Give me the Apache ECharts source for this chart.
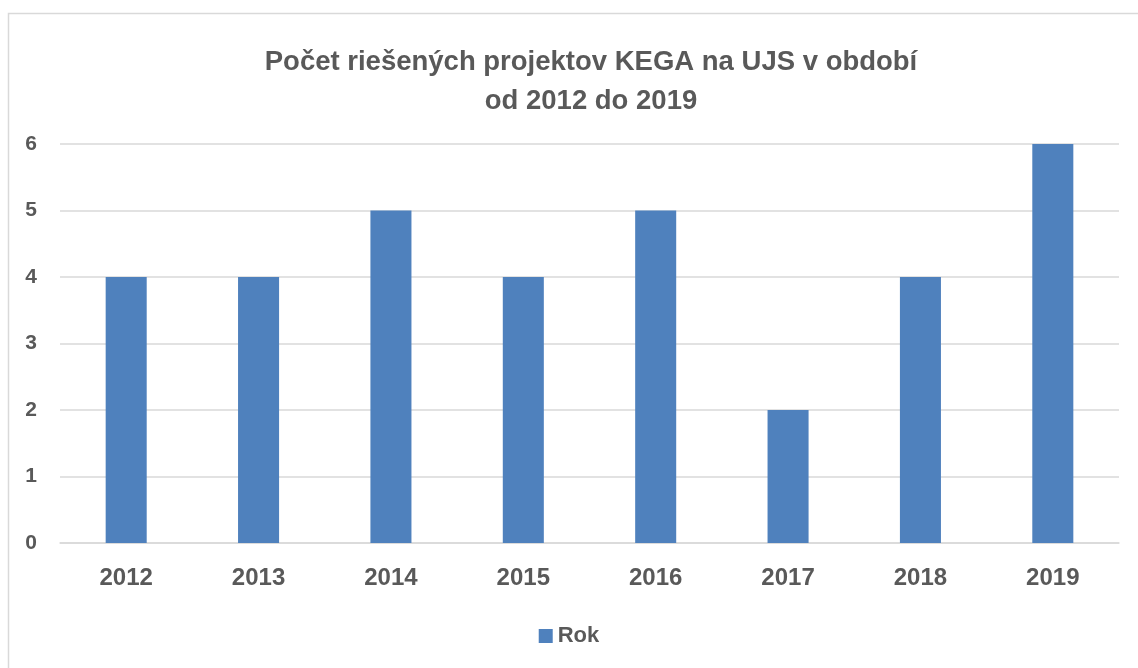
<!DOCTYPE html>
<html>
<head>
<meta charset="utf-8">
<script src="https://cdn.jsdelivr.net/npm/echarts@6/dist/echarts.min.js"></script>
<style>
  html, body { margin: 0; padding: 0; background: #fff; }
  #chart { width: 1138px; height: 668px; }
</style>
</head>
<body>
<div id="chart"></div>
<script>
// data
var years = ['2012', '2013', '2014', '2015', '2016', '2017', '2018', '2019'];
var rok = [4, 4, 5, 4, 5, 2, 4, 6];
var seriesName = 'Rok';
var titleText = 'Počet riešených projektov KEGA na UJS v období\nod 2012 do 2019';

var font = '"Liberation Sans", Arial, sans-serif';
var textColor = '#595959';

var chart = echarts.init(document.getElementById('chart'));
chart.setOption({
    animation: false,
    backgroundColor: '#ffffff',
    graphic: [{
        // outer chart-area frame, runs off the right/bottom edge
        type: 'rect',
        shape: { x: 8.5, y: 13.5, width: 1200, height: 700 },
        style: { fill: 'none', stroke: '#d9d9d9', lineWidth: 1.5 },
        silent: true
    }],
    title: {
        text: titleText,
        left: 586,
        top: 38,
        textAlign: 'center',
        textStyle: {
            fontFamily: font,
            fontWeight: 'bold',
            fontSize: 27.5,
            lineHeight: 39,
            color: textColor
        }
    },
    legend: {
        data: [seriesName],
        bottom: 16,
        left: 'center',
        itemWidth: 14,
        itemHeight: 14,
        itemGap: 7,
        icon: 'rect',
        textStyle: {
            fontFamily: font,
            fontWeight: 'bold',
            fontSize: 22,
            color: textColor
        }
    },
    grid: {
        left: 60,
        right: 19,
        top: 144,
        bottom: 125,
        containLabel: false
    },
    xAxis: {
        type: 'category',
        data: years,
        axisLine: { show: true, lineStyle: { color: '#d9d9d9', width: 1.5 } },
        axisTick: { show: false },
        axisLabel: {
            margin: 23,
            fontFamily: font,
            fontWeight: 'bold',
            fontSize: 24,
            color: textColor
        }
    },
    yAxis: {
        type: 'value',
        min: 0,
        max: 6,
        interval: 1,
        axisLine: { show: false },
        axisTick: { show: false },
        splitLine: { lineStyle: { color: '#d9d9d9', width: 1.5 } },
        axisLabel: {
            margin: 23,
            fontFamily: font,
            fontWeight: 'bold',
            fontSize: 21,
            color: textColor
        }
    },
    series: [{
        name: seriesName,
        type: 'bar',
        data: rok,
        barWidth: '31%',
        itemStyle: { color: '#4f81bd' }
    }]
});
</script>
</body>
</html>
